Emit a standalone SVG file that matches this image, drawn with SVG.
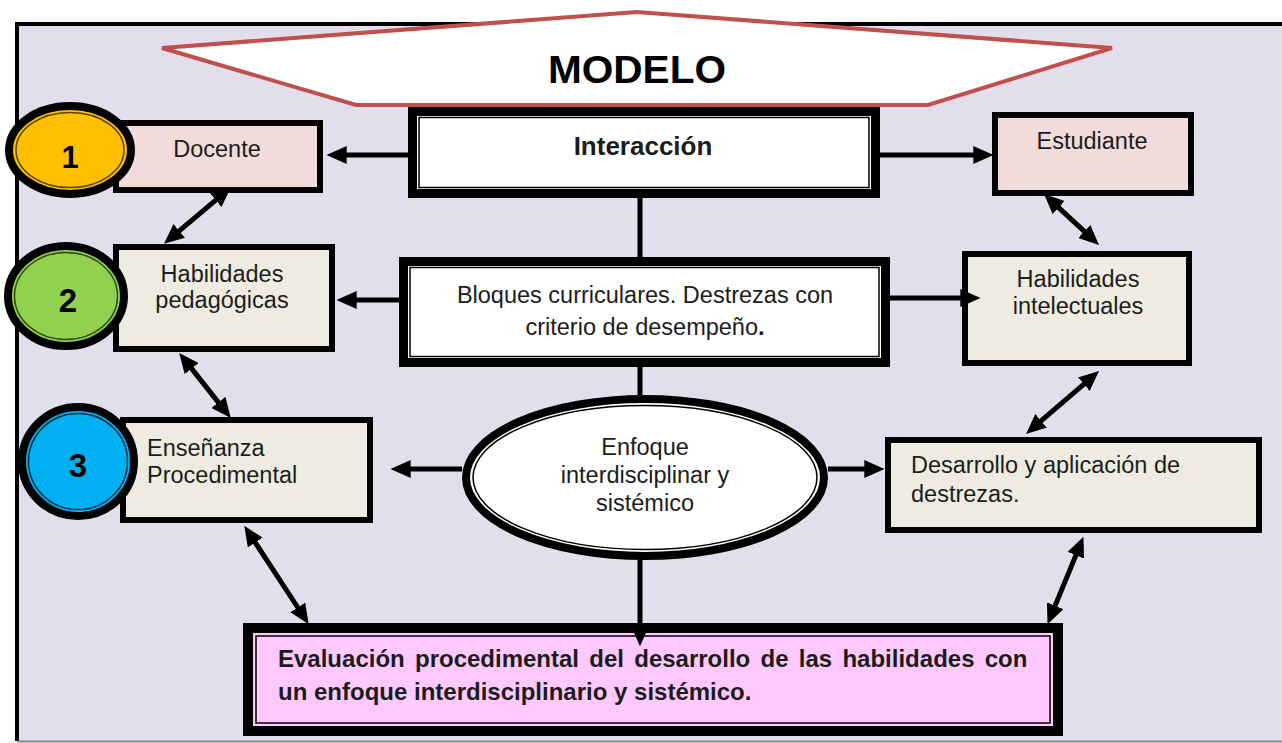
<svg xmlns="http://www.w3.org/2000/svg" width="1282" height="743" viewBox="0 0 1282 743">
<defs>
<style>
text{font-family:"Liberation Sans",Arial,sans-serif;fill:#1c1c1c;}
.t{font-size:23.5px;}
.c{text-anchor:middle;}
.b{font-weight:bold;}
.box{stroke:#000;stroke-width:6;}
.pink{fill:#F2DCDB;}
.cream{fill:#EEECE1;}
.thick{fill:#fff;stroke:#000;stroke-width:9;}
.thin{fill:none;stroke:#000;stroke-width:1.5;}
.con{stroke:#000;stroke-width:5;fill:none;}
.a1{marker-end:url(#ah);}
.a2{marker-end:url(#ah);marker-start:url(#ah);}
.num{font-size:33px;font-weight:bold;text-anchor:middle;fill:#000;}
</style>
<marker id="ah" markerUnits="userSpaceOnUse" markerWidth="20" markerHeight="18" viewBox="0 0 18 16" refX="6" refY="8" orient="auto-start-reverse">
<path d="M0,0 L18,8 L0,16 z" fill="#000"/>
</marker>
</defs>

<rect x="0" y="0" width="1282" height="743" fill="#fff"/>
<g id="frame">
<rect x="17" y="24" width="1280" height="717" fill="#E3DEEB"/>
<line x1="17" y1="22" x2="17" y2="741" stroke="#000" stroke-width="4"/>
<line x1="15" y1="24" x2="1282" y2="24" stroke="#000" stroke-width="4"/>
<line x1="17" y1="741.5" x2="1282" y2="741.5" stroke="#888" stroke-width="2"/>
</g>

<g id="modelo">
<polygon points="162,48 637,12 1112,48 928,105 356,105" fill="#fff" stroke="#C0504D" stroke-width="4" stroke-linejoin="miter"/>
<text x="637" y="83" class="c b" style="font-size:39px;fill:#000" textLength="178" lengthAdjust="spacingAndGlyphs">MODELO</text>
</g>

<g id="interaccion">
<rect class="thick" x="412.5" y="111.5" width="463" height="82"/>
<rect class="thin" x="419" y="117.5" width="450" height="70"/>
<text x="643" y="155" class="c b" style="font-size:26px">Interacción</text>
</g>

<g id="docente">
<rect class="box pink" x="116" y="123" width="204" height="67"/>
<text x="217" y="157" class="t c">Docente</text>
</g>

<g id="estudiante">
<rect class="box pink" x="995" y="115" width="196" height="78"/>
<text x="1092" y="149" class="t c">Estudiante</text>
</g>

<g id="bloques">
<rect class="thick" x="403.5" y="261.5" width="482" height="101"/>
<rect class="thin" x="410" y="267.5" width="469" height="89"/>
<text x="645" y="303" class="t c">Bloques curriculares. Destrezas con</text>
<text x="645" y="335" class="t c">criterio de desempeño<tspan class="b">.</tspan></text>
</g>

<g id="hab-pedagogicas">
<rect class="box cream" x="116" y="247" width="216" height="102"/>
<text x="222" y="282" class="t c">Habilidades</text>
<text x="222" y="308" class="t c">pedagógicas</text>
</g>

<g id="hab-intelectuales">
<rect class="box cream" x="965" y="254" width="224" height="109"/>
<text x="1078" y="287" class="t c">Habilidades</text>
<text x="1078" y="314" class="t c">intelectuales</text>
</g>

<g id="ensenanza">
<rect class="box cream" x="123" y="420" width="247" height="100"/>
<text x="147" y="456" class="t">Enseñanza</text>
<text x="147" y="483" class="t">Procedimental</text>
</g>

<g id="enfoque">
<ellipse cx="645" cy="477.5" rx="179" ry="78.5" fill="#fff" stroke="#000" stroke-width="8"/>
<ellipse cx="645" cy="477.5" rx="172" ry="72" class="thin"/>
<text x="645" y="455" class="t c">Enfoque</text>
<text x="645" y="483" class="t c">interdisciplinar y</text>
<text x="645" y="511" class="t c">sistémico</text>
</g>

<g id="desarrollo">
<rect class="box cream" x="888" y="440" width="371" height="90"/>
<text x="911" y="473" class="t">Desarrollo y aplicación de</text>
<text x="911" y="502" class="t">destrezas.</text>
</g>

<g id="evaluacion">
<rect x="248" y="628" width="810" height="103" fill="#FFC9FF" stroke="#000" stroke-width="10"/>
<rect class="thin" x="256" y="636" width="794" height="87"/>
<text x="278" y="667" class="b" style="font-size:24px;word-spacing:3.6px">Evaluación procedimental del desarrollo de las habilidades con</text>
<text x="278" y="700" class="b" style="font-size:24px">un enfoque interdisciplinario y sistémico.</text>
</g>

<g id="n1">
<ellipse cx="70" cy="150" rx="61" ry="44" fill="#FFC000" stroke="#000" stroke-width="8"/>
<ellipse cx="70" cy="150" rx="54" ry="37.5" fill="none" stroke="#5A4300" stroke-width="1.5"/>
<text x="70" y="168" class="num" style="font-size:31px">1</text>
</g>

<g id="n2">
<ellipse cx="66" cy="296" rx="58" ry="50" fill="#92D050" stroke="#000" stroke-width="8"/>
<ellipse cx="66" cy="296" rx="51.5" ry="43.5" fill="none" stroke="#2E4A12" stroke-width="1.5"/>
<text x="68" y="312" class="num">2</text>
</g>

<g id="n3">
<ellipse cx="78" cy="461.5" rx="56" ry="54.5" fill="#00B0F0" stroke="#000" stroke-width="8"/>
<ellipse cx="78" cy="461.5" rx="49.5" ry="48" fill="none" stroke="#002A40" stroke-width="1.5"/>
<text x="78" y="477" class="num">3</text>
</g>

<g id="connectors">
<line class="con" x1="640" y1="198" x2="640" y2="257"/>
<line class="con" x1="640" y1="367" x2="640" y2="395"/>
<line class="con a1" x1="640" y1="560" x2="640" y2="633"/>
<line class="con a1" x1="408" y1="155" x2="340" y2="155"/>
<line class="con a1" x1="880" y1="155" x2="980" y2="155"/>
<line class="con a1" x1="399" y1="300" x2="350" y2="300"/>
<line class="con a1" x1="890" y1="298" x2="967" y2="298"/>
<line class="con a1" x1="462" y1="469" x2="404" y2="469"/>
<line class="con a1" x1="828" y1="469" x2="871" y2="469"/>
<line class="con a2" x1="220.8" y1="195.8" x2="174.2" y2="235.2"/>
<line class="con a2" x1="187.5" y1="363.4" x2="222.5" y2="407.6"/>
<line class="con a2" x1="251.6" y1="537" x2="301.4" y2="613"/>
<line class="con a2" x1="1053.8" y1="203.1" x2="1089.2" y2="235.9"/>
<line class="con a2" x1="1088.9" y1="379.8" x2="1036.1" y2="425.2"/>
<line class="con a2" x1="1078.4" y1="549.1" x2="1052.6" y2="611.9"/>
</g>
</svg>
